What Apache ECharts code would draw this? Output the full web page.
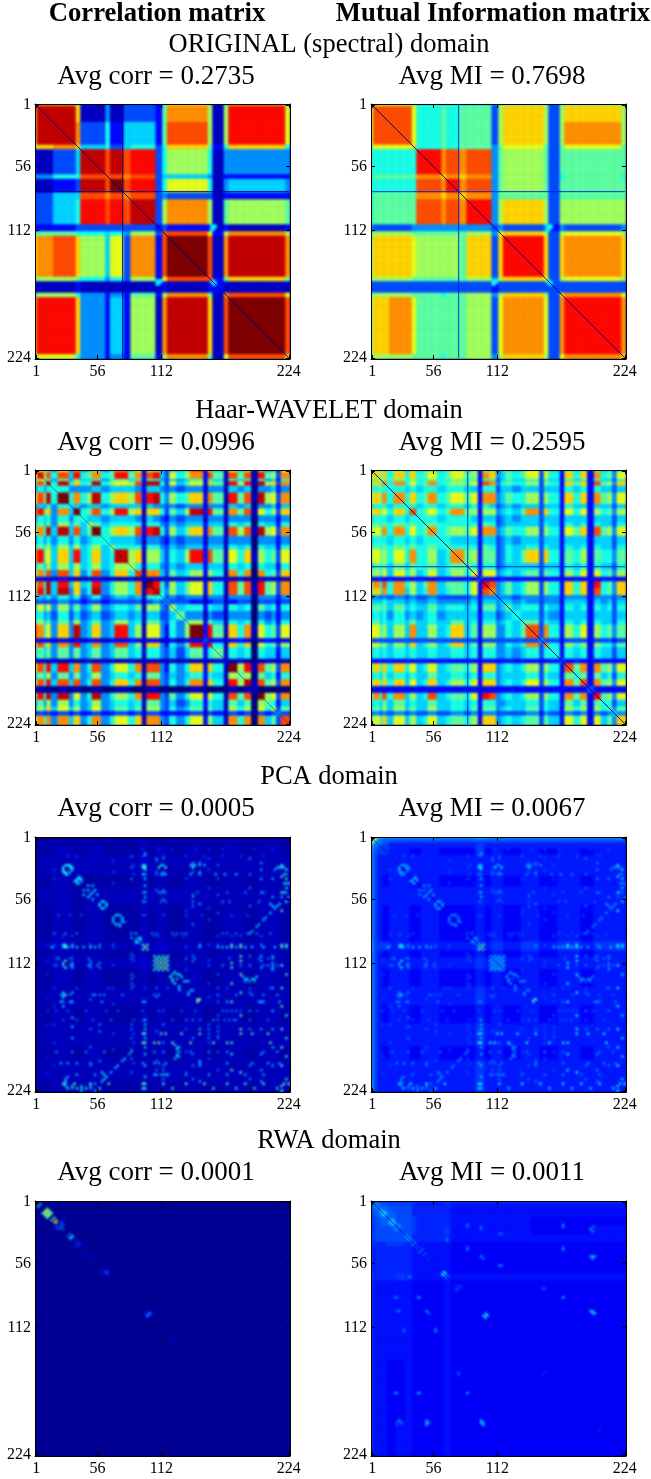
<!DOCTYPE html>
<html><head><meta charset="utf-8">
<style>
html,body{margin:0;padding:0;background:#fff}
#wrap{position:relative;width:651px;height:1479px;overflow:hidden}
#clip{position:absolute;left:0;top:0;width:651px;height:1479px;
 clip-path:path('M35 104h255v255h-255zM371 104h255v255h-255zM35 470h255v255h-255zM371 470h255v255h-255zM35 837h255v255h-255zM371 837h255v255h-255zM35 1201h255v255h-255zM371 1201h255v255h-255z')}
#heat{position:absolute;left:0;top:0;width:651px;height:1479px;filter:blur(1px)}
#over{position:absolute;left:0;top:0;width:651px;height:1479px}
</style>
<script src="https://cdn.jsdelivr.net/npm/echarts@6/dist/echarts.min.js"></script>
</head><body><div id="wrap"><div id="clip"><div id="heat"></div></div><div id="over"></div></div>
<script>
// Axis
const tickLabels = ['1','56','112','224'];
const tickCells  = [0,27,55,111];
const cellCount  = 112; // one cell = two spectral bands

// Text
const columnHeads = ['Correlation matrix','Mutual Information matrix'];
const domainNames = ['ORIGINAL (spectral) domain','Haar-WAVELET domain','PCA domain','RWA domain'];
const avgCorr = ['0.2735','0.0996','0.0005','0.0001'];
const avgMI   = ['0.7698','0.2595','0.0067','0.0011'];

// ORIGINAL domain: band edges (cells) and lower-triangle hex levels (0..f = 0..1)
const origEdges = [0,1,8,18,20,31,33,39,42,53,56,58,76,78,83,85,110,112];
const origCorr = ['9','be','bee','8aba','2135e','4466cc','1123ecf','3355cbcb','3356dcdce','2223333332','6776656483c','abca8593b2cf','78876463829cc','11121111112122','68864242728b71b','bdda425281bea1cf','69964242728b719ca'];
const origMI = ['8','9c','9cc','799a','6666d','6777ba','6666cbd','6777baba','6777cbcbd','4334444443','78877777849','8aa98887a3ad','7887777784 8a9'.replace(' ',''),'33333333323333','78877677848a83a','8ab97777839b93bd','78877677848a839ba'];
// [row, column, value] (mirrored across the diagonal)
const origCorrDots = [[77,53,.34],[77,54,.36],[77,55,.34],[78,53,.36],[78,54,.38],[78,55,.36],[79,53,.34],[79,54,.34],[77,77,.34],[77,78,.38],[78,78,.42],[78,79,.36],[79,79,.34]];
const origMIDots = [[77,53,.36],[77,54,.38],[77,55,.36],[78,53,.38],[78,54,.4],[78,55,.38],[79,53,.36],[79,54,.36],[77,77,.34],[77,78,.38],[78,78,.42],[78,79,.36],[79,79,.34]];

// Haar-WAVELET domain: band edges (cells) and lower-triangle hex levels
const haarEdges = [0,1,4,5,7,10,15,17,20,23,25,29,33,35,41,44,47,49,52,55,57,59,62,66,68,74,76,78,83,85,89,92,95,98,101,104,106,108,112];
const haarCorr = ['7','9d','687','7c7e','46466','9c7e6f','4546465','bd7a4b5f','465646466','5757485758','7b6e5e5c57f','464646464566','6768585856858','bd795a5d56a56e','575858585685688','8b6c4c5a46c46a6c','12121211112111111','8c6e5d5a56d4686b1f','8d6e5e4a46e4686b1de','55464646346345451666','333334332332333313434','5959484745845657188438','56453635345345451553357','685747484574585617743647','cb694a4e45a45d5819942648f','22221212122122221221121223','ac6a4b4d45b45c581aa42647d2d','5757474745745756166435357267','11111111111111111111111111112','9c6d5d5b46c4696b1cc42646a2a61f','5758474745845656177435456265187','8c6d5c5c46c46a6b1cc43646b2a61d8e','110101010010010001100000100001011','7d6e4e4946e4686b1dd4374692961c7c0f','47484846458456561774353462651757087','585a59584594575718843645727518680968','2323232322322323133222223132132303234','9b6b4b5a46b4696a1bb4364692851b6b0b573c'];
const haarMI = ['8','8a','778','7a7b','66766','8a7b6b','5666566','8a796a6c','566656566','6767676767','797b6b6967b','566656565666','6767676766767','8978696b66856b','576757576675677','7869596856956869','22222222222222223','7b6c6b6857b577692d','7a6b6b5856b567692cb','34343434334333342444','555655454454444525545','6767575655756656277457','56564645456455552553456','675656575565575626645657','9968585b55856a5728844657c','33333333333333332333333334','8968585a56856a5728844656b3b','5656565655655656266445456366','22222222222222222222222222223','7a6a6a69569567682aa4565683862c','5657565655755656266455556365276','7a6a6a5956a568692aa4565693862b7c','222222222222222222222222222222223','7b6c6b5856c567692dc4565683862b7b2d','56575756557556562664455563652757276','675858575585565727745655736528682867','3434343433433434244333334243243424345','696a5958569567682aa456567375296929574a'];

// PCA domain: faint band levels (0..f = 0..0.3 / 0..0.45) and bright dots
const pcaCorrEdges = [0,1,3,8,17,22,30,34,46,50,53,58,66,74,82,92,98,108,112];
const pcaCorr = ['1','12','122','1233','12232','123323','1223232','12232322','133433334','1223232232','12333333433','122323223232','1233333333333','12232322323232','123333333333333','1223232232323232','12333333333333333','122323223232323233'];
const pcaMIEdges = [0,1,2,3,5,8,17,22,30,34,46,50,53,58,66,74,82,92,98,108,112];
const pcaMI = ['f','ec','ca9','a887','97766','976555','9765454','97655555','976545454','9765454544','a7666555556','976545454454','9765555555655','97654545445454','976555555565555','9765454544545454','97655555556555555','976545454454545454','9765555555655555555','a7655555556555555555'];
// [row, corr value, MI value, [columns]] (mirrored across the diagonal)
const pcaDots = [
[0,0,.85,[0]],[0,0,.6,[1,2]],[1,0,.55,[1]],
[48,.6,.55,[48]],[47,.42,.42,[47,49]],[49,.42,.42,[49]],
[52,.4,.32,[52,54,56,58]],[53,.5,.34,[53,55,57]],[54,.42,.32,[54,56,58]],[55,.55,.35,[55,57]],[56,.42,.32,[56,58]],[57,.55,.36,[57]],[58,.42,.32,[58]],
[12,.36,.28,[13,15]],[13,.4,.32,[12,16]],[14,.36,.28,[12,16]],[15,.36,.28,[13,15]],
[18,.34,.28,[18,19]],[19,.32,.28,[17,20]],[20,.32,.28,[18,19]],
[21,.33,.27,[23,25]],[23,.36,.3,[23,26]],[25,.34,.3,[24,27]],
[28,.34,.28,[29,30]],[29,.36,.3,[28,31]],[30,.34,.28,[28,31]],[31,.32,.28,[30]],
[34,.32,.26,[36,37]],[35,.32,.26,[34,38]],[36,.3,.26,[34,38]],[37,.28,.24,[38,39]],
[42,.3,.24,[42,44]],[44,.34,.26,[45,46]],[45,.33,.26,[46]],
[60,.36,.3,[60,62,63]],[61,.38,.3,[59,64]],[62,.34,.28,[60,62]],[63,.3,.26,[65,66,67]],[67,.3,.26,[68,69]],[71,.5,.4,[71,72]],
[62,.32,.27,[92,93,95,96]],[61,.32,.27,[91,97]],[63,.3,.26,[92,94,96]],
[42,.3,.25,[94]],[41,.3,.25,[95]],[39,.32,.25,[97]],[38,.3,.25,[98]],[36,.32,.25,[100]],[35,.3,.25,[101]],[33,.34,.28,[103]],[31,.34,.28,[105]],[30,.36,.28,[104,106]],[29,.34,.28,[103,107]],
[13,.32,.26,[106,107,108,109]],[14,.3,.26,[105,110]],[16,.32,.26,[109,110]],[20,.32,.26,[109,110,111]],[24,.3,.25,[109,110]],[26,.3,.25,[108,111]],
[12,.34,.28,[47,48,55,56,68,70,72,74]],[13,.46,.38,[47,48,54,57,69]],[16,.32,.26,[47,48,55,57,68,72,79,83,88]],[24,.24,.22,[47,54,55,56,57,71,84,92,100]],[28,.26,.22,[47,48,55,57,69,82,85,98]],
[42,.24,.2,[8,13,18,51,53,60,62,64,66,82,84,88,93,97,103]],[43,.2,.2,[12,16,52,54,61,65,80,86,90,99]],
[48,.34,.32,[7,12,14,18,21,24,26,80,82,84,86,88,92,95,100,105,108,110]],
[53,.24,.24,[9,10,15,16,23,66,70,85,98,102]],[56,.26,.24,[9,15,16,23,27,76,82,90,100,102,104,106]],
[69,.26,.22,[11,12,15,25,26,30,38,52,54,80,88,95,100,106]],[72,.3,.25,[11,12,15,29,47,48,84,98,100,107]],
[76,.2,.2,[9,14,22,31,36,47,54,56,64,70,90,97]],[80,.22,.2,[12,18,25,33,47,60,66,72,83,88,94,102]],
[86,.46,.38,[47,48,55,57,64,72,90,95,102]],[90,.48,.4,[47,48,52,54,60,68,78,84,103]],
[94,.26,.24,[9,16,22,30,52,56,68,76,84,100,106]],[99,.3,.26,[11,14,18,24,47,52,54,57,72,84,95,102,107]],
[104,.3,.25,[18,26,52,53,55,57,58,66,76,84,92,100]],[108,.46,.38,[12,17,24,32,47,48,56,66,74,84,92,100,109,111]],[110,.42,.36,[14,18,22,28,47,48,60,78,88,96,106]],
[5,.16,.2,[47,54,60,70,76,82,96,104]],[8,.18,.22,[14,18,47,48,56,66,74,82,90,100]],[34,.2,.2,[10,15,20,47,48,56,66,73,86,93]],[66,.2,.2,[18,32,48,58,84,94,103]],[76,.24,.2,[82,84,86,88]],[80,.24,.2,[78,80,85,87]]
];

// RWA domain
const rwaCorrEdges = [0,112];
const rwaCorr = ['1'];
const rwaMIEdges = [0,1,2,4,7,11,15,18,20,32,35,50,70,97,112];
const rwaMI = ['d','cc','bbc','aabd','a9abb','99aaaa','a9aaaaa','98889988','978888877','a888898778','97777776676','977777766766','9777667667666','97776776676666'];
// [row, column, value] (mirrored across the diagonal)
const rwaCorrDots = [[1,2,.34],[4,4,.65],[5,5,.75],[6,6,.6],[4,6,.55],[3,5,.45],[5,7,.45],[4,5,.4],[5,6,.38],[8,9,.75],[9,9,.5],[7,8,.4],[9,11,.22],[11,11,.28],[10,12,.22],[12,12,.22],[8,12,.14],[10,10,.14],[15,16,.36],[14,15,.22],[16,16,.22],[18,19,.18],[19,20,.13],[17,18,.13],[22,23,.1],[24,25,.09],[31,31,.26],[30,30,.14],[32,32,.14],[29,31,.12],[30,32,.1],[37,37,.1],[36,36,.07],[38,38,.07],[49,50,.3],[48,49,.14],[49,51,.12],[50,50,.12],[48,51,.08],[49,38,.07],[37,50,.06],[62,61,.08],[61,60,.06],[100,100,.06],[47,96,.06],[96,46,.05],[2,96,.05],[75,78,.05],[80,78,.04],[40,50,.05]];
const rwaMIDots = [[0,0,.3],[2,2,.3],[4,4,.4],[5,5,.42],[6,5,.35],[6,6,.3],[8,9,.42],[9,10,.36],[10,10,.3],[10,12,.28],[12,11,.28],[16,16,.34],[15,15,.3],[17,17,.32],[18,19,.26],[20,20,.26],[21,22,.24],[23,23,.26],[25,25,.2],[31,31,.3],[32,31,.36],[32,32,.34],[33,33,.28],[37,37,.2],[38,38,.24],[39,37,.2],[50,50,.4],[49,50,.32],[51,50,.3],
[97,48,.34],[98,49,.34],[48,96,.32],[49,97,.3],[84,42,.32],[84,10,.26],[84,20,.26],[97,11,.22],[98,11,.2],[97,24,.3],[98,24,.3],[48,11,.22],[48,24,.3],[49,25,.26],[42,10,.24],[42,20,.24],[57,14,.22],[57,28,.26],[76,38,.2],[12,48,.26],[24,48,.3],[25,49,.26],[12,96,.3],[13,97,.28],[24,96,.3],[25,97,.28],[11,42,.24],[21,42,.28],[11,84,.28],[21,84,.3],[42,84,.34],[14,56,.22],[28,56,.26],[17,33,.26],[33,16,.24],[38,75,.22],[100,100,.2],[75,76,.16]];

// Per-panel overlays: thin one-cell lines [cell index]
const origLineCell = [38];
const haarMILineCell = [42];

const jetStops = ['#00007f','#0000ff','#007fff','#00ffff','#7fff7f','#ffff00','#ff7f00','#ff0000','#7f0000'];

function grid(edges, rows, scale, dots){
  const out=[];
  const bandOf=new Array(cellCount); let b=0;
  for(let i=0;i<cellCount;i++){ while(i>=edges[b+1]) b++; bandOf[i]=b; }
  const spot=new Map();
  (dots||[]).forEach(d=>{spot.set(d[0]*1000+d[1],d[2]);spot.set(d[1]*1000+d[0],d[2]);});
  for(let y=0;y<cellCount;y++)for(let x=0;x<cellCount;x++){
    const hi=Math.max(bandOf[x],bandOf[y]),lo=Math.min(bandOf[x],bandOf[y]);
    const lvl=parseInt(rows[hi][lo],16);
    let v=lvl/15*scale; const s=spot.get(y*1000+x);
    if(s!==undefined&&s>v)v=s;
    out.push([x,y,v]);
  }
  return out;
}
const pcaCorrDots=[],pcaMIDots=[];
pcaDots.forEach(r=>r[3].forEach(c=>{ if(r[1]>0)pcaCorrDots.push([r[0],c,r[1]]); pcaMIDots.push([r[0],c,r[2]]); }));

const panels=[
 {col:0,row:0,data:grid(origEdges,origCorr,1,origCorrDots),diag:'#00007f',diagOpacity:.9,lines:origLineCell,lineColor:'#00007f'},
 {col:1,row:0,data:grid(origEdges,origMI,1,origMIDots),diag:'#00007f',diagOpacity:.9,lines:origLineCell,lineColor:'#0020d0'},
 {col:0,row:1,data:grid(haarEdges,haarCorr,1),diag:'#00007f',diagOpacity:.4,lines:[],lineColor:''},
 {col:1,row:1,data:grid(haarEdges,haarMI,1),diag:'#00007f',diagOpacity:.9,lines:haarMILineCell,lineColor:'#0020b0'},
 {col:0,row:2,data:grid(pcaCorrEdges,pcaCorr,.3,pcaCorrDots),diag:null,lines:[],lineColor:''},
 {col:1,row:2,data:grid(pcaMIEdges,pcaMI,.45,pcaMIDots),diag:'#0000a0',diagOpacity:.5,lines:[],lineColor:''},
 {col:0,row:3,data:grid(rwaCorrEdges,rwaCorr,.3,rwaCorrDots),diag:null,lines:[],lineColor:''},
 {col:1,row:3,data:grid(rwaMIEdges,rwaMI,.3,rwaMIDots),diag:'#0000a0',diagOpacity:.6,lines:[],lineColor:''}
];

const FONT='"Liberation Serif","Times New Roman",serif';
const gridLefts=[35,371], gridTops=[104,470,837,1201], size=255;
const domainY=[45,411,777,1141];
const cats=Array.from({length:cellCount},(_,i)=>{const k=tickCells.indexOf(i);return k>=0?tickLabels[k]:'';});
const isTick=i=>tickCells.indexOf(i)>=0;

const grids=[],xAxes=[],yAxes=[],series=[],hx=[],hy=[];
panels.forEach((p,i)=>{
  grids.push({left:gridLefts[p.col],top:gridTops[p.row],width:size,height:size});
  const common=pos=>({type:'category',gridIndex:i,data:cats,position:pos,boundaryGap:true,z:5,
    axisLine:{show:true,onZero:false,lineStyle:{color:'#000',width:1}},
    axisTick:{show:true,inside:true,length:4,alignWithLabel:true,interval:isTick,lineStyle:{color:'#000',width:1}},
    splitLine:{show:false},splitArea:{show:false},
    axisLabel:{show:pos==='bottom'||pos==='left',interval:isTick,margin:pos==='left'?4:5,color:'#000',fontFamily:FONT,fontSize:16,hideOverlap:false,padding:pos==='left'?[3,0,0,0]:0}});
  xAxes.push(common('bottom'),common('top'));
  yAxes.push(Object.assign(common('left'),{inverse:true}),Object.assign(common('right'),{inverse:true}));
  hx.push({type:'category',gridIndex:i,data:cats,show:false});
  hy.push({type:'category',gridIndex:i,data:cats,show:false,inverse:true});
  series.push({type:'heatmap',name:'panel'+i,xAxisIndex:i,yAxisIndex:i,data:p.data,progressive:0,animation:false,silent:true,emphasis:{disabled:true}});
});
const lineSeries=[];
panels.forEach((p,i)=>{
  const add=(d,c,o)=>lineSeries.push({type:'line',xAxisIndex:2*i,yAxisIndex:2*i,data:d,symbol:'none',silent:true,animation:false,z:3,lineStyle:{color:c,width:1,opacity:o}});
  if(p.diag)add([[0,0],[cellCount-1,cellCount-1]],p.diag,p.diagOpacity);
  p.lines.forEach(n=>{add([[n,0],[n,cellCount-1]],p.lineColor,.9);add([[0,n],[cellCount-1,n]],p.lineColor,.9);});
});

const titles=[];
const t=(text,x,y,fs,bold)=>titles.push({text,left:x,top:y-fs/2,textAlign:'center',padding:0,textStyle:{fontFamily:FONT,fontSize:fs,fontWeight:bold?'bold':'normal',color:'#000'}});
t(columnHeads[0],157,14,26.7,true); t(columnHeads[1],493,14,26.7,true);
domainNames.forEach((d,r)=>{
  t(d,329,domainY[r],26.5,false);
  t('Avg corr = '+avgCorr[r],156,domainY[r]+32,27,false);
  t('Avg MI = '+avgMI[r],492,domainY[r]+32,27,false);
});

// Heat layer (softened like the enlarged bitmap in the reference)
const heat=echarts.init(document.getElementById('heat'),null,{renderer:'canvas'});
heat.setOption({animation:false,backgroundColor:'#00007f',tooltip:{show:false},grid:grids,xAxis:hx,yAxis:hy,
  visualMap:{show:false,type:'continuous',min:0,max:1,dimension:2,inRange:{color:jetStops}},
  series:series});
// Axis, text and thin-line layer
const over=echarts.init(document.getElementById('over'),null,{renderer:'canvas'});
over.setOption({animation:false,backgroundColor:'transparent',title:titles,tooltip:{show:false},grid:grids,xAxis:xAxes,yAxis:yAxes,series:lineSeries});
</script></body></html>
